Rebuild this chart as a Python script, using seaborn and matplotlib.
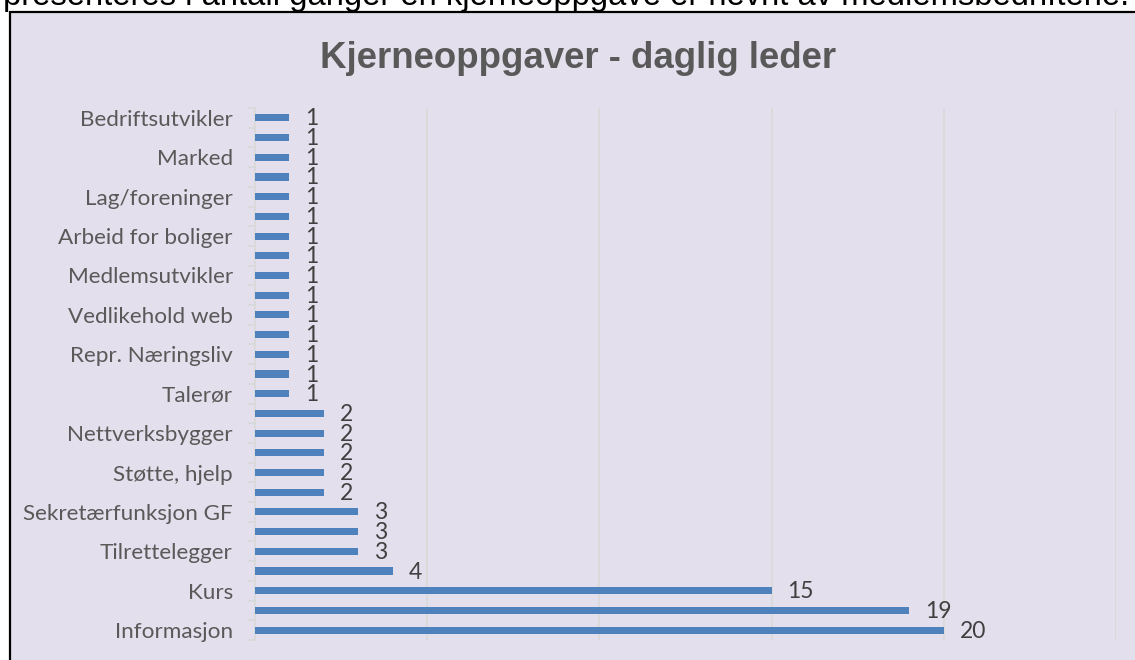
import matplotlib
matplotlib.use("Agg")
import matplotlib.pyplot as plt
import matplotlib.patches as mpatches
import seaborn as sns
import pandas as pd

# ---- data (top to bottom as displayed) ----
categories = [
    "Bedriftsutvikler", "Oppgave 2", "Marked", "Oppgave 4", "Lag/foreninger",
    "Oppgave 6", "Arbeid for boliger", "Oppgave 8", "Medlemsutvikler", "Oppgave 10",
    "Vedlikehold web", "Oppgave 12", "Repr. Næringsliv", "Oppgave 14", "Talerør",
    "Oppgave 16", "Nettverksbygger", "Oppgave 18", "Støtte, hjelp", "Oppgave 20",
    "Sekretærfunksjon GF", "Oppgave 22", "Tilrettelegger", "Oppgave 24", "Kurs",
    "Oppgave 26", "Informasjon",
]
values = [1, 1, 1, 1, 1, 1, 1, 1, 1, 1, 1, 1, 1, 1, 1,
          2, 2, 2, 2, 2, 3, 3, 3, 4, 15, 19, 20]
# Excel only showed every second category label
shown_labels = ["Bedriftsutvikler", "Marked", "Lag/foreninger", "Arbeid for boliger",
                "Medlemsutvikler", "Vedlikehold web", "Repr. Næringsliv", "Talerør",
                "Nettverksbygger", "Støtte, hjelp", "Sekretærfunksjon GF",
                "Tilrettelegger", "Kurs", "Informasjon"]
title = "Kjerneoppgaver - daglig leder"
top_text = "presenteres i antall ganger en kjerneoppgave er nevnt av medlemsbedriftene."
x_max = 25
x_grid = [0, 5, 10, 15, 20, 25]

df = pd.DataFrame({"oppgave": categories, "antall": values})

W, H = 1135, 660
fig = plt.figure(figsize=(W / 100, H / 100), dpi=100)
fig.patch.set_facecolor("white")

bg = "#E4DFEC"
# chart area box (extends beyond the right and bottom edges)
fig.patches.append(mpatches.Rectangle((10 / W, -0.1), 1.2, 1 - 12 / H + 0.1,
                                      transform=fig.transFigure, facecolor=bg,
                                      edgecolor="black", linewidth=1.6, zorder=-10))

fig.text(3 / W, 1 - 5 / H, top_text, fontsize=23.6, family="Liberation Sans",
         color="black", ha="left", va="baseline")

fig.text(578 / W, 1 - 59 / H, title, fontsize=26.4, family="Liberation Sans",
         fontweight="bold", color="#595959", ha="center", va="center")

ax = fig.add_axes([255 / W, 1 - 640 / H, (1116 - 255) / W, (640 - 108) / H])
ax.set_facecolor("none")

sns.barplot(data=df, y="oppgave", x="antall", order=categories, orient="h",
            color="#4F81BD", saturation=1, width=0.36, ax=ax, zorder=3)

ax.set_xlim(0, x_max)
ax.set_ylim(len(categories) - 0.5, -0.5)
ax.set_xlabel("")
ax.set_ylabel("")
ax.set_xticks(x_grid)
ax.set_xticklabels([])
ax.tick_params(axis="x", length=0)
ax.grid(axis="x", color="#D9D9D9", linewidth=1.2, zorder=0)
ax.set_axisbelow(True)

for s in ["top", "right", "bottom"]:
    ax.spines[s].set_visible(False)
ax.spines["left"].set_color("#D9D9D9")
ax.spines["left"].set_linewidth(1.2)

labels = [c if c in shown_labels else "" for c in categories]
ax.set_yticks(range(len(categories)))
ax.set_yticklabels(labels, family="Lato", fontsize=16.2, color="#595959")
ax.tick_params(axis="y", which="major", length=0, pad=16)
ax.set_yticks([i - 0.5 for i in range(len(categories) + 1)], minor=True)
ax.tick_params(axis="y", which="minor", length=5, color="#D9D9D9", width=1.2)

for i, v in enumerate(values):
    ax.annotate(str(v), (v, i), xytext=(16, -1), textcoords="offset pixels",
                ha="left", va="center", family="Lato", fontsize=16.5, color="#404040")

fig.savefig("out.png", dpi=100, facecolor="white")
